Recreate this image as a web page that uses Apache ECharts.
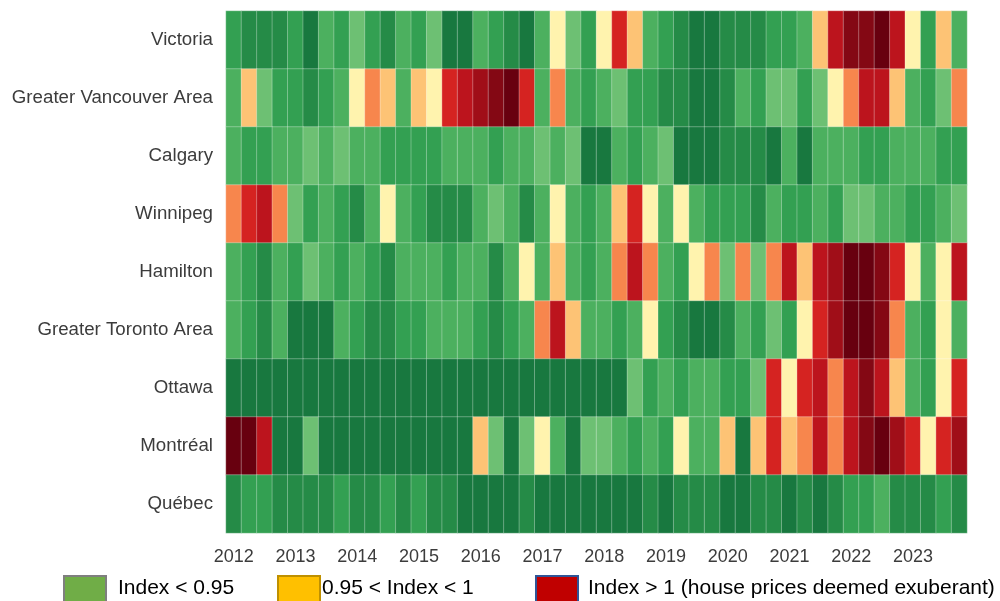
<!DOCTYPE html>
<html>
<head>
<meta charset="utf-8">
<script src="https://cdn.jsdelivr.net/npm/echarts@6/dist/echarts.min.js"></script>
<style>
  html, body { margin: 0; padding: 0; background: #ffffff; }
  #chart { width: 1000px; height: 601px; }
</style>
</head>
<body>
<div id="chart"></div>
<script>
// Exuberance index by city, quarterly 2012 Q1 – 2023 Q4
const cities = ['Victoria', 'Greater Vancouver Area', 'Calgary', 'Winnipeg', 'Hamilton',
                'Greater Toronto Area', 'Ottawa', 'Montréal', 'Québec'];
const years = ['2012', '2013', '2014', '2015', '2016', '2017', '2018', '2019', '2020', '2021', '2022', '2023'];
const quarters = ['Q1', 'Q2', 'Q3', 'Q4'];

const victoria = [.87,.84,.83,.85,.88,.80,.90,.87,.92,.88,.84,.90,.87,.93,.80,.81,.90,.87,.84,.81,.90,.96,.92,.88,
                  .96,1.03,.975,.91,.87,.84,.80,.80,.83,.83,.82,.88,.87,.91,.975,1.05,1.14,1.13,1.18,1.06,.965,.88,.975,.90];
const vancouver = [.91,.975,.92,.87,.88,.84,.88,.90,.96,.99,.975,.90,.975,.965,1.02,1.04,1.09,1.12,1.18,1.02,.91,.99,.91,.88,
                   .90,.92,.88,.87,.84,.84,.80,.80,.85,.91,.87,.92,.92,.88,.92,.955,.99,1.04,1.06,.975,.90,.87,.92,.99];
const calgary = [.90,.88,.88,.91,.91,.92,.91,.92,.90,.90,.88,.88,.88,.88,.89,.91,.91,.88,.91,.91,.92,.91,.92,.80,
                 .81,.91,.88,.91,.92,.80,.80,.80,.82,.82,.82,.80,.91,.80,.91,.91,.90,.88,.88,.90,.91,.90,.88,.88];
const winnipeg = [.99,1.03,1.06,.99,.92,.88,.90,.88,.85,.91,.955,.91,.88,.85,.84,.84,.90,.92,.90,.85,.90,.965,.91,.88,
                  .90,.975,1.02,.955,.91,.965,.91,.88,.86,.86,.85,.90,.86,.86,.90,.88,.92,.92,.91,.90,.88,.86,.90,.92];
const hamilton = [.90,.88,.85,.90,.88,.92,.90,.88,.90,.88,.85,.91,.91,.90,.88,.90,.90,.85,.90,.955,.90,.975,.90,.88,
                  .90,.99,1.06,.99,.91,.88,.955,.99,.92,.99,.92,.99,1.05,.98,1.04,1.09,1.18,1.18,1.12,1.03,.955,.90,.965,1.04];
const toronto = [.91,.88,.85,.91,.80,.80,.81,.91,.88,.85,.83,.88,.86,.91,.91,.91,.88,.83,.88,.91,.99,1.06,.975,.91,
                 .90,.88,.91,.955,.88,.84,.80,.80,.84,.90,.88,.92,.88,.965,1.03,1.09,1.18,1.18,1.12,.99,.91,.88,.955,.91];
const ottawa = [.80,.80,.80,.80,.80,.80,.80,.80,.80,.80,.80,.80,.80,.80,.80,.80,.80,.80,.80,.80,.80,.80,.80,.80,
                .80,.80,.92,.88,.91,.88,.90,.91,.88,.88,.92,1.02,.955,1.02,1.05,.99,1.07,1.14,1.04,.975,.91,.88,.955,1.02];
const montreal = [1.17,1.18,1.07,.80,.80,.92,.80,.80,.80,.80,.80,.80,.80,.80,.80,.80,.975,.92,.80,.92,.955,.91,.80,.92,
                  .92,.91,.88,.91,.88,.955,.91,.91,.975,.80,.975,1.03,.975,.99,1.04,.99,1.06,1.13,1.18,1.11,1.02,.955,1.02,1.08];
const quebec = [.85,.87,.87,.85,.83,.82,.83,.87,.85,.83,.87,.83,.87,.85,.82,.81,.81,.81,.81,.82,.81,.81,.81,.81,
                .81,.81,.81,.82,.81,.82,.82,.82,.81,.81,.84,.83,.80,.83,.80,.84,.86,.87,.89,.84,.82,.83,.87,.85];

const rows = [victoria, vancouver, calgary, winnipeg, hamilton, toronto, ottawa, montreal, quebec];

// one category per quarter; only the first quarter of each year is labelled
const periods = [];
years.forEach(y => quarters.forEach(q => periods.push(y + ' ' + q)));

const cells = [];
rows.forEach((vals, r) => vals.forEach((v, c) => cells.push([c, r, v])));

const font = '"Liberation Sans", Arial, sans-serif';

const chart = echarts.init(document.getElementById('chart'), null, { renderer: 'canvas' });
chart.setOption({
  animation: false,
  backgroundColor: '#ffffff',
  grid: { left: 226, right: 33, top: 11, bottom: 68 },
  xAxis: {
    type: 'category',
    data: periods,
    axisLine: { show: false },
    axisTick: { show: false },
    splitLine: { show: false },
    axisLabel: {
      interval: 3,
      margin: 15,
      color: '#3c3c3c',
      fontSize: 18,
      fontFamily: font,
      formatter: v => v.slice(0, 4)
    }
  },
  yAxis: {
    type: 'category',
    data: cities,
    inverse: true,
    axisLine: { show: false },
    axisTick: { show: false },
    splitLine: { show: false },
    axisLabel: { margin: 13, color: '#3c3c3c', fontSize: 18.7, fontFamily: font }
  },
  visualMap: {
    type: 'piecewise',
    show: false,
    dimension: 2,
    pieces: [
      { lt: 0.82, color: '#18783f' },
      { gte: 0.82, lt: 0.855, color: '#258b47' },
      { gte: 0.855, lt: 0.885, color: '#33a052' },
      { gte: 0.885, lt: 0.915, color: '#4cb05f' },
      { gte: 0.915, lt: 0.95, color: '#6dc073' },
      { gte: 0.95, lt: 0.97, color: '#fff3ae' },
      { gte: 0.97, lt: 0.985, color: '#fdc375' },
      { gte: 0.985, lt: 1.0, color: '#f7864d' },
      { gte: 1.0, lt: 1.04, color: '#d52321' },
      { gte: 1.04, lt: 1.08, color: '#bc141d' },
      { gte: 1.08, lt: 1.12, color: '#a00e18' },
      { gte: 1.12, lt: 1.16, color: '#840814' },
      { gte: 1.16, color: '#68000f' }
    ]
  },
  series: [{
    type: 'heatmap',
    data: cells,
    itemStyle: { borderColor: 'rgba(255,255,255,0.3)', borderWidth: 1 },
    emphasis: { disabled: true }
  }],
  graphic: [
    { type: 'rect', shape: { x: 64, y: 576, width: 42, height: 30 },
      style: { fill: '#70ad47', stroke: '#7f7f7f', lineWidth: 2 } },
    { type: 'text', x: 118, y: 588,
      style: { text: 'Index < 0.95', fill: '#000000', font: '21px ' + font, textVerticalAlign: 'middle' } },
    { type: 'rect', shape: { x: 278, y: 576, width: 42, height: 30 },
      style: { fill: '#ffc000', stroke: '#bf9000', lineWidth: 2 } },
    { type: 'text', x: 322, y: 588,
      style: { text: '0.95 < Index < 1', fill: '#000000', font: '21px ' + font, textVerticalAlign: 'middle' } },
    { type: 'rect', shape: { x: 536, y: 576, width: 42, height: 30 },
      style: { fill: '#c00000', stroke: '#2f5597', lineWidth: 2 } },
    { type: 'text', x: 588, y: 588,
      style: { text: 'Index > 1 (house prices deemed exuberant)', fill: '#000000', font: '21px ' + font, textVerticalAlign: 'middle' } }
  ]
});
</script>
</body>
</html>
